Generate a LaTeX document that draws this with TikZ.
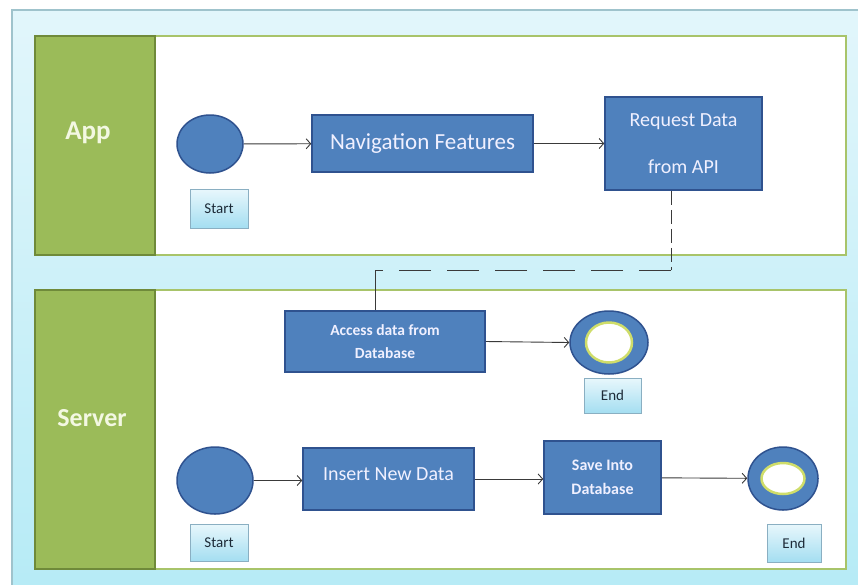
\documentclass[tikz,border=0pt]{standalone}
\usepackage{fontspec}
\setmainfont{Carlito}
\usetikzlibrary{shapes.geometric,arrows.meta,shadows}

\definecolor{panelline}{HTML}{9FC3CC}
\definecolor{paneltop}{HTML}{E2F6FB}
\definecolor{panelbottom}{HTML}{B6EBF6}
\definecolor{lanegreen}{HTML}{9BBB59}
\definecolor{lanedark}{HTML}{6F8A3A}
\definecolor{laneedge}{HTML}{A8C46A}
\definecolor{lanetitle}{HTML}{F3F8E2}
\definecolor{taskfill}{HTML}{4F81BD}
\definecolor{taskedge}{HTML}{2F528F}
\definecolor{tagedge}{HTML}{8AAFC2}
\definecolor{tagtop}{HTML}{E8F7FC}
\definecolor{tagbottom}{HTML}{A4DEF1}
\definecolor{tagtext}{HTML}{1D2B38}
\definecolor{glow}{HTML}{CFDD6A}
\definecolor{wire}{HTML}{3A3A3A}

\begin{document}
\begin{tikzpicture}[x=1pt,y=-1pt,
  panel/.style={draw=panelline,line width=1.2pt,top color=paneltop,bottom color=panelbottom},
  lanebody/.style={draw=laneedge,line width=2pt,fill=white},
  lanehead/.style={draw=lanedark,line width=1.5pt,fill=lanegreen,minimum width=120pt,inner sep=0pt},
  lanetext/.style={text=lanetitle,font=\bfseries\fontsize{27}{30}\selectfont,inner sep=0pt},
  task/.style={rectangle,draw=taskedge,line width=1.5pt,fill=taskfill,text=white!94!blue,
    align=center,inner sep=2pt},
  taskbold/.style={task,font=\bfseries\fontsize{15.5}{23}\selectfont},
  startdot/.style={ellipse,draw=taskedge,line width=1.5pt,fill=taskfill,inner sep=0pt},
  enddot/.style={ellipse,draw=taskedge,line width=1.5pt,fill=taskfill,inner sep=0pt},
  endcore/.style={ellipse,draw=glow,line width=2.5pt,fill=white,inner sep=0pt},
  tag/.style={rectangle,draw=tagedge,line width=0.9pt,top color=tagtop,bottom color=tagbottom,
    text=tagtext,font=\fontsize{15}{18}\selectfont,inner sep=0pt,
    drop shadow={shadow xshift=1.2pt,shadow yshift=-1.2pt,opacity=0.25}},
  flow/.style={draw=wire,line width=0.9pt,-{Straight Barb[length=4.5pt,width=10pt]}},
  link/.style={draw=wire,line width=1pt}
]
\useasboundingbox (0,0) rectangle (858,584);
\fill[white] (0,0) rectangle (858,584);
\draw[panel] (12,10) rectangle (864,592);

% swim lanes
\draw[lanebody] (155,36) rectangle (846,255);
\draw[lanebody] (155,290) rectangle (846,569);
\node[lanehead,minimum height=219pt] (applane) at (95,145.5) {};
\node[lanehead,minimum height=279pt] (serverlane) at (95,429.5) {};
\node[lanetext] (apptitle) at (88,133) {App};
\node[lanetext,font=\bfseries\fontsize{26}{30}\selectfont] (servertitle) at (92,418) {Server};

% App lane
\node[startdot,minimum width=66pt,minimum height=58pt] (s1) at (210,144) {};
\node[tag,minimum width=58pt,minimum height=39pt] (s1tag) at (219,208.5) {Start};
\node[task,minimum width=221pt,minimum height=57pt,font=\fontsize{23}{27}\selectfont] (nav) at (422.5,143.5) {Navigation Features};
\node[task,minimum width=157pt,minimum height=93pt,font=\fontsize{20}{47}\selectfont] (req) at (683.5,143.5) {Request Data\\from API};

% Server lane, reading branch
\node[taskbold,minimum width=200pt,minimum height=61pt] (acc) at (385,341.5) {Access data from\\Database};
\node[enddot,minimum width=78pt,minimum height=63pt] (e1) at (609,342.5) {};
\node[endcore,minimum width=46pt,minimum height=40pt] (e1core) at (e1.center) {};
\node[tag,minimum width=57pt,minimum height=35pt] (e1tag) at (612.5,395.5) {End};

% Server lane, writing branch
\node[startdot,minimum width=76pt,minimum height=67pt] (s2) at (215,480.5) {};
\node[tag,minimum width=58pt,minimum height=37pt] (s2tag) at (219,542.5) {Start};
\node[task,minimum width=171pt,minimum height=62pt,font=\fontsize{20}{24}\selectfont,text depth=9pt] (ins) at (388.5,479) {Insert New Data};
\node[taskbold,minimum width=117pt,minimum height=73pt,font=\bfseries\fontsize{16}{24}\selectfont] (save) at (602.5,477.5) {Save Into\\Database};
\node[enddot,minimum width=70pt,minimum height=63pt] (e2) at (783,478.5) {};
\node[endcore,minimum width=43pt,minimum height=31pt] (e2core) at (e2.center) {};
\node[tag,minimum width=54pt,minimum height=38pt] (e2tag) at (794,543) {End};

% connectors
\draw[flow] (s1) -- (nav);
\draw[flow] (nav) -- (req);
\coordinate (drop) at (671,270);
\coordinate (turn) at (375,270);
\draw[link,dash pattern=on 14pt off 5pt] (req.south -| drop) -- (drop);
\draw[link,dash pattern=on 32pt off 16pt] (drop) -- (turn);
\draw[link] (turn) -- (acc.north -| turn);
\draw[flow] (acc.east) -- (e1.west);
\draw[flow] (s2.east) -- (s2.east -| ins.west);
\draw[flow] (ins.east) -- (ins.east -| save.west);
\draw[flow] (save) -- (e2);
\end{tikzpicture}
\end{document}
